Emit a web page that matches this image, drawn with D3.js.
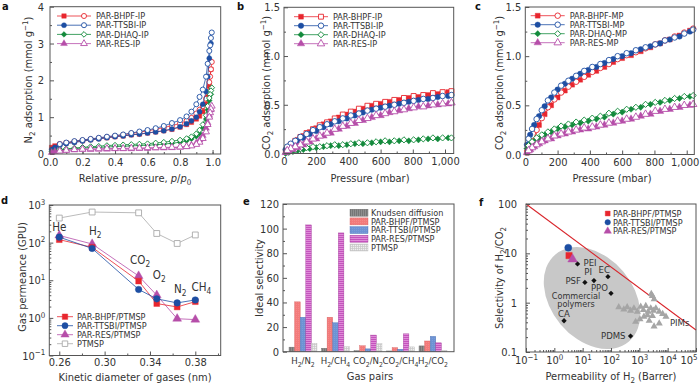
<!DOCTYPE html>
<html>
<head>
<meta charset="utf-8">
<script src="https://cdn.jsdelivr.net/npm/d3@7"></script>
<style>
body{margin:0;background:#fff;}
svg text{font-family:"Liberation Sans Narrow","DejaVu Sans Condensed","Roboto Condensed",Roboto,sans-serif;}
</style>
</head>
<body>
<svg width="700" height="384"></svg>
<script>
// ---- data ----
var namesIP = ["PAR-BHPF-IP","PAR-TTSBI-IP","PAR-DHAQ-IP","PAR-RES-IP"];
var namesMP = ["PAR-BHPF-MP","PAR-TTSBI-MP","PAR-DHAQ-MP","PAR-RES-MP"];

// a: N2 isotherms (relative pressure)
var n2PAds = [0.01,0.03,0.06,0.1,0.15,0.2,0.25,0.3,0.35,0.4,0.45,0.5,0.55,0.6,0.65,0.7,0.75,0.8,0.84,0.87,0.9,0.92,0.94,0.96,0.97,0.98,0.99];
var n2PDes = [0.995,0.99,0.985,0.98,0.97,0.96,0.94,0.92,0.9,0.87,0.84,0.8,0.75,0.7,0.65,0.6,0.55,0.5,0.45,0.4,0.35,0.3,0.25,0.2,0.15,0.1,0.06];
var n2AdsBHPF = [0.18,0.22,0.26,0.3,0.33,0.36,0.39,0.42,0.44,0.47,0.49,0.52,0.54,0.57,0.6,0.63,0.67,0.73,0.8,0.86,0.95,1.03,1.15,1.35,1.55,1.85,2.3];
var n2DesBHPF = [2.5,2.3,2.1,1.95,1.7,1.5,1.3,1.2,1.1,0.98,0.9,0.83,0.77,0.72,0.67,0.63,0.59,0.56,0.52,0.49,0.46,0.43,0.4,0.37,0.34,0.3,0.27];
var n2AdsTTSBI = [0.12,0.18,0.23,0.28,0.31,0.35,0.38,0.41,0.44,0.47,0.49,0.52,0.54,0.57,0.6,0.63,0.68,0.74,0.82,0.9,1.0,1.15,1.35,1.7,2.1,2.6,3.0];
var n2DesTTSBI = [3.3,3.15,2.95,2.8,2.45,2.1,1.75,1.55,1.35,1.15,1.02,0.92,0.84,0.76,0.7,0.65,0.61,0.57,0.53,0.5,0.47,0.44,0.41,0.38,0.35,0.31,0.27];
var n2AdsDHAQ = [0.06,0.09,0.11,0.13,0.15,0.16,0.17,0.18,0.19,0.2,0.21,0.22,0.23,0.24,0.25,0.27,0.29,0.32,0.36,0.41,0.48,0.56,0.7,0.95,1.2,1.45,1.62];
var n2DesDHAQ = [1.8,1.72,1.62,1.52,1.3,1.05,0.8,0.65,0.55,0.47,0.42,0.38,0.35,0.32,0.3,0.28,0.27,0.26,0.25,0.24,0.23,0.21,0.2,0.18,0.16,0.14,0.12];
var n2AdsRES = [0.04,0.07,0.09,0.1,0.11,0.12,0.12,0.13,0.13,0.14,0.14,0.14,0.15,0.15,0.16,0.16,0.17,0.18,0.2,0.24,0.3,0.38,0.5,0.7,0.85,1.05,1.2];
var n2DesRES = [1.3,1.22,1.12,1.0,0.8,0.6,0.42,0.32,0.26,0.22,0.2,0.19,0.18,0.18,0.17,0.17,0.16,0.16,0.15,0.15,0.15,0.14,0.14,0.13,0.12,0.1,0.08];

// b, c: CO2 isotherms (mbar)
var co2PAds = [10,30,55,85,120,160,200,245,290,340,390,440,490,545,600,655,715,775,835,895,955,1020];
var co2PDes = [1040,985,925,865,805,745,685,628,572,518,465,415,365,315,267,222,180,140,102,70,42,20];
var ipAdsBHPF = [0.02,0.06,0.1,0.14,0.18,0.22,0.26,0.3,0.33,0.37,0.4,0.43,0.46,0.49,0.51,0.53,0.55,0.57,0.58,0.6,0.61,0.63];
var ipDesBHPF = [0.64,0.63,0.62,0.6,0.59,0.57,0.55,0.53,0.51,0.49,0.46,0.43,0.4,0.36,0.32,0.29,0.25,0.21,0.17,0.13,0.09,0.05];
var ipAdsTTSBI = [0.04,0.07,0.1,0.13,0.16,0.2,0.23,0.27,0.3,0.33,0.36,0.39,0.42,0.45,0.47,0.49,0.51,0.53,0.55,0.56,0.58,0.59];
var ipDesTTSBI = [0.6,0.59,0.57,0.56,0.54,0.52,0.5,0.48,0.46,0.44,0.41,0.39,0.36,0.33,0.3,0.27,0.24,0.2,0.17,0.13,0.1,0.07];
var ipAdsDHAQ = [0.0,0.01,0.02,0.03,0.04,0.05,0.06,0.07,0.08,0.08,0.09,0.1,0.1,0.11,0.12,0.12,0.13,0.13,0.14,0.15,0.15,0.16];
var ipDesDHAQ = [0.16,0.16,0.16,0.15,0.14,0.14,0.13,0.13,0.12,0.11,0.11,0.1,0.09,0.09,0.08,0.07,0.07,0.06,0.05,0.04,0.03,0.02];
var ipAdsRES = [0.01,0.02,0.04,0.06,0.09,0.12,0.15,0.18,0.21,0.25,0.28,0.31,0.34,0.37,0.39,0.42,0.44,0.46,0.48,0.49,0.5,0.51];
var ipDesRES = [0.52,0.51,0.5,0.48,0.47,0.45,0.43,0.41,0.39,0.36,0.34,0.31,0.28,0.25,0.21,0.18,0.15,0.12,0.09,0.07,0.05,0.03];

var mpAdsBHPF = [0.02,0.06,0.14,0.3,0.41,0.5,0.58,0.65,0.71,0.76,0.81,0.85,0.89,0.94,0.98,1.01,1.05,1.09,1.13,1.17,1.21,1.26];
var mpDesBHPF = [1.28,1.24,1.2,1.16,1.12,1.08,1.04,1.01,0.97,0.92,0.88,0.84,0.79,0.74,0.69,0.63,0.56,0.48,0.37,0.25,0.1,0.04];
var mpAdsTTSBI = [0.1,0.2,0.3,0.39,0.49,0.58,0.66,0.72,0.77,0.82,0.86,0.89,0.93,0.97,1.0,1.03,1.07,1.1,1.13,1.17,1.2,1.25];
var mpDesTTSBI = [1.27,1.23,1.19,1.16,1.12,1.09,1.06,1.03,1.0,0.96,0.92,0.89,0.85,0.8,0.75,0.7,0.63,0.55,0.45,0.36,0.26,0.16];
var mpAdsDHAQ = [0.06,0.1,0.13,0.16,0.2,0.23,0.26,0.28,0.3,0.32,0.34,0.36,0.38,0.41,0.43,0.46,0.48,0.51,0.53,0.55,0.57,0.59];
var mpDesDHAQ = [0.6,0.59,0.57,0.55,0.53,0.51,0.48,0.46,0.44,0.42,0.39,0.37,0.35,0.33,0.31,0.29,0.26,0.23,0.2,0.17,0.13,0.09];
var mpAdsRES = [0.02,0.05,0.08,0.11,0.14,0.16,0.19,0.21,0.23,0.25,0.26,0.28,0.3,0.32,0.34,0.36,0.39,0.41,0.44,0.46,0.48,0.5];
var mpDesRES = [0.51,0.5,0.48,0.46,0.44,0.41,0.38,0.36,0.34,0.32,0.3,0.28,0.27,0.25,0.23,0.21,0.19,0.16,0.13,0.1,0.07,0.04];

// d: gas permeance
var gasNames = ["He","H2","CO2","O2","N2","CH4"];
var kineticDiam = [0.26,0.289,0.33,0.346,0.364,0.38];
var permBHPF = [120,75,9.5,2.4,1.95,2.7];
var permTTSBI = [140,70,5.7,3.2,2.5,3.0];
var permRES = [155,92,13,4.0,0.95,0.9];
var permPTMSP = [450,650,620,175,95,160];
var membraneNames = ["PAR-BHPF/PTMSP","PAR-TTSBI/PTMSP","PAR-RES/PTMSP","PTMSP"];

// e: ideal selectivity
var pairNames = ["H2/N2","H2/CH4","CO2/N2","CO2/CH4","H2/CO2"];
var selNames = ["Knudsen diffusion","PAR-BHPF/PTMSP","PAR-TTSBI/PTMSP","PAR-RES/PTMSP","PTMSP"];
var selKnudsen = [3.7,2.8,0.8,0.6,4.7];
var selBHPF = [40.5,28,4.8,3.3,8.7];
var selTTSBI = [28,23.5,2.3,2.0,12.5];
var selRES = [103,96.5,13.5,14.5,7.2];
var selPTMSP = [6.8,4.0,6.5,3.9,1.1];

// f: H2/CO2 trade-off plot
var thisPerm = [3.3,3.1,4.4];
var thisSel = [9.0,13,7.6];
var polyNames = ["PEI","PI","PSF","EC","PPO","CA","PDMS"];
var polyPerm = [6.6,25,12,78,100,2.2,490];
var polySel = [6.1,2.8,2.57,3.37,1.55,0.43,0.21];
var pimPerm = [188,284,373,490,645,850,1120,1390,1690,2040,2530,3160,3830,5030,6650,8700,1450,1050,740,2230,3310,5030,2900,1930,2900,3330,2640];
var pimSel = [0.81,0.73,0.81,0.69,0.77,0.66,0.83,0.71,0.86,0.66,0.77,0.69,0.77,0.66,0.59,0.52,0.52,0.46,0.41,0.43,0.33,0.38,0.54,0.56,1.37,1.17,1.5];
var boundPerm = [0.1,100000];
var boundSel = [100,0.28];

// ---- helpers ----
var svg = d3.select("svg");
var ink = "#333";
var frameCol = "#555";
var cRed = "#e8262e", cBlue = "#1d4ea3", cGreen = "#138a3c", cPurple = "#b64ea9";
var TICK = 11;
var LEG = 9;

function addRich(t, parts, fs) {
  var shift = 0;
  parts.forEach(function(p) {
    var target = p.s == "sub" ? fs * 0.28 : (p.s == "sup" ? -fs * 0.38 : 0);
    var ts = t.append("tspan").text(p.t);
    if (target - shift != 0) ts.attr("dy", target - shift);
    if (p.s) ts.attr("font-size", fs * 0.72);
    if (p.i) ts.attr("font-style", "italic");
    shift = target;
  });
  return t;
}
function gasParts(str) {
  return str.match(/\d+|\D+/g).map(function(s) { return {t: s, s: /\d/.test(s) ? "sub" : null}; });
}
function label(x, y, parts, fs, anchor, rot) {
  var t = svg.append("text").attr("font-size", fs).attr("fill", ink).attr("text-anchor", anchor || "start");
  if (rot) t.attr("transform", "translate(" + x + "," + y + ") rotate(-90)");
  else t.attr("x", x).attr("y", y);
  return addRich(t, typeof parts == "string" ? [{t: parts}] : parts, fs);
}
function box(x0, x1, y0, y1) {
  svg.append("rect").attr("x", x0).attr("y", y0).attr("width", x1 - x0).attr("height", y1 - y0)
    .attr("fill", "none").attr("stroke", frameCol).attr("stroke-width", 1);
}
function axis(kind, scale, pos, ticks, fmt, len, pad) {
  var ax = (kind == "b" ? d3.axisBottom(scale) : d3.axisLeft(scale))
    .tickValues(ticks).tickSize(-len).tickPadding(pad || 4)
    .tickFormat(fmt || function() { return ""; });
  var g = svg.append("g")
    .attr("transform", kind == "b" ? "translate(0," + pos + ")" : "translate(" + pos + ",0)")
    .call(ax);
  g.attr("font-size", TICK).attr("font-family", null).attr("color", frameCol);
  g.select(".domain").remove();
  g.selectAll("text").attr("fill", ink);
  return g;
}
function logLabels(g) {
  g.selectAll(".tick text").each(function(d) {
    var e = Math.round(Math.log10(d));
    var t = d3.select(this).text("");
    addRich(t, [{t: "10"}, {t: e < 0 ? "\u2212" + (-e) : String(e), s: "sup"}], TICK);
  });
  return g;
}
function logMinor(lo, hi) {
  var out = [];
  for (var e = lo; e < hi; e++) for (var k = 2; k < 10; k++) out.push(k * Math.pow(10, e));
  return out;
}
function marker(g, type, x, y, size, color, open) {
  var t = (type == "square" || type == "diamond") ? d3.symbolSquare : type == "circle" ? d3.symbolCircle : d3.symbolTriangle;
  var s = type == "diamond" ? size * 0.8 : size;
  g.append("path").attr("d", d3.symbol().type(t).size(s)())
    .attr("transform", "translate(" + x + "," + y + ")" + (type == "diamond" ? " rotate(45)" : ""))
    .attr("fill", open ? "#fff" : color).attr("stroke", color).attr("stroke-width", open ? 0.9 : 0.4);
}
function panelLetter(x, y, s) {
  svg.append("text").attr("x", x).attr("y", y).attr("font-size", 11).attr("font-weight", "bold").attr("fill", "#111").text(s);
}

function isotherms(x, y, pAds, pDes, list, size, leg) {
  var g = svg.append("g");
  var line = d3.line().x(function(d) { return x(d[0]); }).y(function(d) { return y(d[1]); });
  list.forEach(function(s) {
    var a = d3.zip(pAds, s.ads), b = d3.zip(pDes, s.des);
    g.append("path").attr("d", line(a)).attr("fill", "none").attr("stroke", s.color).attr("stroke-width", 0.8);
    g.append("path").attr("d", line(b)).attr("fill", "none").attr("stroke", s.color).attr("stroke-width", 0.8);
    a.forEach(function(d) { marker(g, s.fill, x(d[0]), y(d[1]), size, s.color, false); });
    b.forEach(function(d) { marker(g, s.open, x(d[0]), y(d[1]), size, s.color, true); });
  });
  list.forEach(function(s, i) {
    var ly = leg.y + i * leg.dy;
    g.append("line").attr("x1", leg.x).attr("x2", leg.x + 34).attr("y1", ly).attr("y2", ly)
      .attr("stroke", s.color).attr("stroke-width", 0.8);
    marker(g, s.fill, leg.x + 7, ly, size, s.color, false);
    marker(g, s.open, leg.x + 27, ly, size, s.color, true);
    label(leg.x + 39, ly + 3.2, s.name, LEG);
  });
}

// ---- panel a ----
var xA = d3.scaleLinear().domain([0, 1.05]).range([50, 220.7]);
var yA = d3.scaleLinear().domain([0, 4]).range([154, 6.7]);
axis("b", xA, 154, d3.range(0, 1.01, 0.1), null, 2);
axis("b", xA, 154, [0, 0.2, 0.4, 0.6, 0.8, 1.0], d3.format(".1f"), 4);
axis("l", yA, 50, d3.range(0.5, 4, 1), null, 2);
axis("l", yA, 50, [0, 1, 2, 3, 4], d3.format("d"), 4, 6);
isotherms(xA, yA, n2PAds, n2PDes, [
  {name: namesIP[0], color: cRed, ads: n2AdsBHPF, des: n2DesBHPF, fill: "square", open: "circle"},
  {name: namesIP[1], color: cBlue, ads: n2AdsTTSBI, des: n2DesTTSBI, fill: "circle", open: "circle"},
  {name: namesIP[2], color: cGreen, ads: n2AdsDHAQ, des: n2DesDHAQ, fill: "diamond", open: "diamond"},
  {name: namesIP[3], color: cPurple, ads: n2AdsRES, des: n2DesRES, fill: "triangle", open: "triangle"}
], 20, {x: 57, y: 16, dy: 9.2});
box(50, 220.7, 6.7, 154);
label(135, 181.7, [{t: "Relative pressure, "}, {t: "p", i: 1}, {t: "/"}, {t: "p", i: 1}, {t: "0", s: "sub"}], 11, "middle");
label(32, 80, [{t: "N"}, {t: "2", s: "sub"}, {t: " adsorption (mmol g"}, {t: "\u22121", s: "sup"}, {t: ")"}], 11, "middle", true);
panelLetter(2, 10, "a");

// ---- panel b ----
var xB = d3.scaleLinear().domain([0, 1054]).range([284, 453.7]);
var yB = d3.scaleLinear().domain([0, 1.5]).range([153.5, 7.3]);
axis("b", xB, 153.5, d3.range(100, 1001, 200), null, 2);
axis("b", xB, 153.5, [0, 200, 400, 600, 800, 1000], d3.format(","), 4);
axis("l", yB, 284, [0.25, 0.75, 1.25], null, 2);
axis("l", yB, 284, [0, 0.5, 1.0, 1.5], d3.format(".1f"), 4);
isotherms(xB, yB, co2PAds, co2PDes, [
  {name: namesIP[0], color: cRed, ads: ipAdsBHPF, des: ipDesBHPF, fill: "square", open: "square"},
  {name: namesIP[1], color: cBlue, ads: ipAdsTTSBI, des: ipDesTTSBI, fill: "circle", open: "circle"},
  {name: namesIP[2], color: cGreen, ads: ipAdsDHAQ, des: ipDesDHAQ, fill: "diamond", open: "diamond"},
  {name: namesIP[3], color: cPurple, ads: ipAdsRES, des: ipDesRES, fill: "triangle", open: "triangle"}
], 24, {x: 294, y: 16.7, dy: 9});
box(284, 453.7, 7.3, 153.5);
label(370, 181.7, "Pressure (mbar)", 11, "middle");
label(270, 83, [{t: "CO"}, {t: "2", s: "sub"}, {t: " adsorption (mmol g"}, {t: "\u22121", s: "sup"}, {t: ")"}], 11, "middle", true);
panelLetter(237, 10, "b");

// ---- panel c ----
var xC = d3.scaleLinear().domain([0, 1047]).range([525.3, 694.3]);
var yC = d3.scaleLinear().domain([0, 1.5]).range([154.5, 7]);
axis("b", xC, 154.5, d3.range(100, 1001, 200), null, 2);
var cxAxis = axis("b", xC, 154.5, [0, 200, 400, 600, 800, 1000], d3.format(","), 4);
cxAxis.selectAll(".tick text").filter(function(d) { return d == 1000; }).attr("dx", -2);
axis("l", yC, 525.3, [0.25, 0.75, 1.25], null, 2);
axis("l", yC, 525.3, [0, 0.5, 1.0, 1.5], d3.format(".1f"), 4);
isotherms(xC, yC, co2PAds, co2PDes, [
  {name: namesMP[0], color: cRed, ads: mpAdsBHPF, des: mpDesBHPF, fill: "square", open: "circle"},
  {name: namesMP[1], color: cBlue, ads: mpAdsTTSBI, des: mpDesTTSBI, fill: "circle", open: "circle"},
  {name: namesMP[2], color: cGreen, ads: mpAdsDHAQ, des: mpDesDHAQ, fill: "diamond", open: "diamond"},
  {name: namesMP[3], color: cPurple, ads: mpAdsRES, des: mpDesRES, fill: "triangle", open: "triangle"}
], 24, {x: 530.7, y: 15.7, dy: 9});
box(525.3, 694.3, 7, 154.5);
label(612, 181.7, "Pressure (mbar)", 11, "middle");
label(503, 83, [{t: "CO"}, {t: "2", s: "sub"}, {t: " adsorption (mmol g"}, {t: "\u22121", s: "sup"}, {t: ")"}], 11, "middle", true);
panelLetter(475, 10, "c");

// ---- panel d ----
var xD = d3.scaleLinear().domain([0.2512, 0.4024]).range([49.3, 220.7]);
var yD = d3.scaleLog().domain([0.1, 1000]).range([355.5, 205]);
axis("b", xD, 355.5, [0.28, 0.32, 0.36, 0.40], null, 2);
axis("b", xD, 355.5, [0.26, 0.30, 0.34, 0.38], d3.format(".2f"), 4, 3);
axis("l", yD, 49.3, logMinor(-1, 3), null, 2);
logLabels(axis("l", yD, 49.3, [0.1, 1, 10, 100, 1000], d3.format(""), 4));
var gd = svg.append("g");
var lineD = d3.line().x(function(d) { return xD(d[0]); }).y(function(d) { return yD(d[1]); });
var dSeries = [
  {vals: permPTMSP, color: "#a9a9a9", sym: "square", open: true},
  {vals: permRES, color: cPurple, sym: "triangle", open: false},
  {vals: permBHPF, color: cRed, sym: "square", open: false},
  {vals: permTTSBI, color: cBlue, sym: "circle", open: false}
];
dSeries.forEach(function(s) {
  var pts = d3.zip(kineticDiam, s.vals);
  gd.append("path").attr("d", lineD(pts)).attr("fill", "none").attr("stroke", s.color).attr("stroke-width", 0.8);
  pts.forEach(function(d) { marker(gd, s.sym, xD(d[0]), yD(d[1]), 34, s.color, s.open); });
});
var gasDx = [0, 3, 1.5, 2.5, 3, 6], gasDy = [-4, -9, -12, -16, -10, -9];
gasNames.forEach(function(n, i) {
  var top = d3.max([permBHPF[i], permTTSBI[i], permRES[i]]);
  label(xD(kineticDiam[i]) + gasDx[i], yD(top) + gasDy[i], gasParts(n), 11.5, "middle");
});
var dLeg = [dSeries[2], dSeries[3], dSeries[1], dSeries[0]];
dLeg.forEach(function(s, i) {
  var ly = 316.7 + i * 9;
  gd.append("line").attr("x1", 57).attr("x2", 73).attr("y1", ly).attr("y2", ly).attr("stroke", s.color).attr("stroke-width", 0.8);
  marker(gd, s.sym, 65, ly, 30, s.color, s.open);
  label(77, ly + 3.2, membraneNames[i], LEG);
});
box(49.3, 220.7, 205, 355.5);
label(135, 380.5, "Kinetic diameter of gases (nm)", 11, "middle");
label(26, 277, "Gas permeance (GPU)", 11, "middle", true);
panelLetter(1, 204, "d");

// ---- panel e ----
var defs = svg.append("defs");
function stripes(id, base, lineCol, kind) {
  var p = defs.append("pattern").attr("id", id).attr("patternUnits", "userSpaceOnUse").attr("width", 2).attr("height", 2);
  p.append("rect").attr("width", 2).attr("height", 2).attr("fill", base);
  if (kind == "v" || kind == "grid") p.append("rect").attr("width", 0.7).attr("height", 2).attr("fill", lineCol);
  if (kind == "h" || kind == "grid") p.append("rect").attr("width", 2).attr("height", 0.7).attr("fill", lineCol);
  if (kind == "d") p.append("rect").attr("width", 0.6).attr("height", 0.6).attr("fill", lineCol);
}
stripes("pK", "#8e8e8e", "#6c6c6c", "v");
stripes("pB", "#f37a7a", "#f7a3a3", "d");
stripes("pT", "#6d93d4", "#91afe2", "d");
stripes("pR", "#c553bd", "#eaa5e4", "h");
stripes("pP", "#efefef", "#c8c8c8", "grid");
var eFill = ["url(#pK)", "url(#pB)", "url(#pT)", "url(#pR)", "url(#pP)"];
var eStroke = ["#666", "#d86060", "#4f73b5", "#a03c98", "#bbb"];
var selSeries = [selKnudsen, selBHPF, selTTSBI, selRES, selPTMSP];
var xE = d3.scaleBand().domain(pairNames).range([286.75, 449.25]).paddingInner(0.14).paddingOuter(0.07);
var xEi = d3.scaleBand().domain(d3.range(5)).range([0, xE.bandwidth()]);
var yE = d3.scaleLinear().domain([0, 120]).range([351.7, 204]);
axis("l", yE, 283, d3.range(10, 120, 20), null, 2);
axis("l", yE, 283, d3.range(0, 121, 20), d3.format("d"), 4);
var ge = svg.append("g");
selSeries.forEach(function(vals, k) {
  ge.selectAll(null).data(pairNames).enter().append("rect")
    .attr("x", function(d) { return xE(d) + xEi(k); })
    .attr("width", xEi.bandwidth())
    .attr("y", function(d, i) { return yE(vals[i]); })
    .attr("height", function(d, i) { return yE(0) - yE(vals[i]); })
    .attr("fill", eFill[k]).attr("stroke", eStroke[k]).attr("stroke-width", 0.4);
});
var gex = svg.append("g").attr("transform", "translate(0,351.7)")
  .call(d3.axisBottom(xE).tickSize(0).tickPadding(6));
gex.attr("font-size", 9.5).attr("font-family", null);
gex.select(".domain").remove();
gex.selectAll(".tick text").attr("fill", ink).each(function(d) {
  var t = d3.select(this).text("");
  addRich(t, gasParts(d), 9.5);
});
selNames.forEach(function(n, k) {
  var ly = 212.7 + k * 8.7;
  ge.append("rect").attr("x", 350).attr("y", ly - 3.5).attr("width", 18).attr("height", 7)
    .attr("fill", eFill[k]).attr("stroke", eStroke[k]).attr("stroke-width", 0.4);
  label(371, ly + 3.2, n, LEG);
});
box(283, 454, 204, 351.7);
label(370, 380, "Gas pairs", 11, "middle");
label(263, 278, "Ideal selectivity", 11, "middle", true);
panelLetter(243, 205, "e");

// ---- panel f ----
var xF = d3.scaleLog().domain([0.1, 100000]).range([526, 696]);
var yF = d3.scaleLog().domain([0.1, 100]).range([352, 204]);
var gf = svg.append("g");
var ellC = [xF(21.4), yF(1.24)];
gf.append("ellipse").attr("rx", 57).attr("ry", 41)
  .attr("transform", "translate(" + ellC[0] + "," + ellC[1] + ") rotate(50)")
  .attr("fill", "#c8c8c8");
axis("b", xF, 352, logMinor(-1, 5), null, 2);
var fxAxis = logLabels(axis("b", xF, 352, [0.1, 1, 10, 100, 1000, 10000, 100000], d3.format(""), 4));
fxAxis.selectAll(".tick text").filter(function(d) { return d == 100000; }).attr("text-anchor", "end").attr("dx", 1);
axis("l", yF, 526, logMinor(-1, 2), null, 2);
axis("l", yF, 526, [0.1, 1, 10, 100], function(d) { return d < 1 ? "0.1" : String(d); }, 4, 9);
gf.append("path").attr("d", d3.line()(d3.zip(boundPerm.map(xF), boundSel.map(yF))))
  .attr("stroke", "#d9252b").attr("stroke-width", 1.1).attr("fill", "none");
pimPerm.forEach(function(p, i) {
  gf.append("path").attr("d", d3.symbol().type(d3.symbolTriangle).size(22)())
    .attr("transform", "translate(" + xF(p) + "," + yF(pimSel[i]) + ")").attr("fill", "#a5a5a5");
});
var polyOff = [[6, 2, "start"], [-2, -5.5, "end"], [-4, 2, "end"], [2, -4, "end"], [-3, -2, "end"], [0, -3.5, "middle"], [-5, 3, "end"]];
polyNames.forEach(function(n, i) {
  var px = xF(polyPerm[i]), py = yF(polySel[i]);
  gf.append("path").attr("d", d3.symbol().type(d3.symbolSquare).size(14)())
    .attr("transform", "translate(" + px + "," + py + ") rotate(45)").attr("fill", "#111");
  label(px + polyOff[i][0], py + polyOff[i][1], n, 9.5, polyOff[i][2]);
});
label(ellC[0] - 16, ellC[1] + 0.5, "Commercial", 9, "middle");
label(ellC[0] - 16, ellC[1] + 9, "polymers", 9, "middle");
label(xF(12000), yF(0.4) + 4, "PIMs", 9.5);
var fSym = ["square", "circle", "triangle"], fCol = [cRed, cBlue, cPurple];
thisPerm.forEach(function(p, i) {
  marker(gf, fSym[i], xF(p), yF(thisSel[i]), 40, fCol[i], false);
});
fSym.forEach(function(s, i) {
  var ly = 213.5 + i * 8.8;
  marker(gf, s, 607.7, ly, 24, fCol[i], false);
  label(613, ly + 3.2, membraneNames[i], LEG);
});
box(526, 696, 204, 352);
label(611, 380, [{t: "Permeability of H"}, {t: "2", s: "sub"}, {t: " (Barrer)"}], 11, "middle");
label(503, 278, [{t: "Selectivity of H"}, {t: "2", s: "sub"}, {t: "/CO"}, {t: "2", s: "sub"}], 11, "middle", true);
panelLetter(479, 206, "f");
</script>
</body>
</html>
